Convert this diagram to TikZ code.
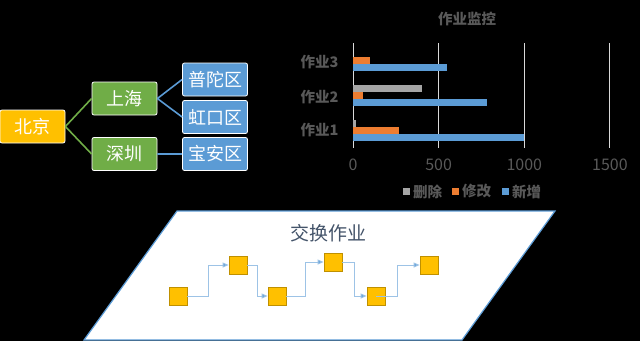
\documentclass[tikz,border=0pt]{standalone}
\usepackage{fontspec}
\setmainfont{Noto Sans CJK SC}
\usetikzlibrary{positioning,arrows.meta}
\definecolor{cyellow}{HTML}{FFC000}
\definecolor{cgreen}{HTML}{70AD47}
\definecolor{cblue}{HTML}{5B9BD5}
\definecolor{corange}{HTML}{ED7D31}
\definecolor{cgray}{HTML}{A5A5A5}
\definecolor{chtext}{HTML}{595959}
\definecolor{cslate}{HTML}{44546A}

\begin{document}
\begin{tikzpicture}[x=1pt,y=-1pt,
  city/.style={draw=white, line width=0.8pt, rounded corners=2pt, text=white,
    minimum width=65pt, minimum height=33pt, inner sep=0pt,
    font=\fontsize{18}{18}\selectfont},
  chlabel/.style={text=chtext, font=\fontsize{14.5}{15}\selectfont\bfseries},
  jobbox/.style={draw=cyellow!75!black, fill=cyellow, line width=0.8pt,
    minimum size=18pt, inner sep=0pt},
  jobline/.style={draw=cblue!60, line width=1pt,
    -{Triangle[length=6pt,width=5pt,fill=cblue]}},
]
\fill[black] (0,0) rectangle (640,341);
\useasboundingbox (0,0) rectangle (640,341);

% city tree
\node[city, fill=cyellow] (bj) at (32.5,126.5) {北京};
\node[city, fill=cgreen] (sh) at (124.5,98.5) {上海};
\node[city, fill=cgreen] (sz) at (124.5,154) {深圳};
\node[city, fill=cblue] (pt) at (215,79.5) {普陀区};
\node[city, fill=cblue] (hk) at (215,117) {虹口区};
\node[city, fill=cblue] (ba) at (215,154) {宝安区};
\draw[cgreen, line width=1.6pt] (bj.east) -- (sh.west) (bj.east) -- (sz.west);
\draw[cblue, line width=1.6pt] (sh.east) -- (pt.west) (sh.east) -- (hk.west)
  (sz.east) -- (ba.west);

% bar chart
\node[chlabel] (chtitle) at (467,19) {作业监控};
\foreach \v in {0,500,1000,1500} {
  \draw[white!85!black, line width=1pt] ({353+0.1713*\v},43) -- ({353+0.1713*\v},148);
  \node[text=chtext, font=\fontsize{16}{16}\selectfont] at ({353+0.1713*\v},165) {\v};
}
\foreach \y/\l in {62/作业3, 97/作业2, 130/作业1}
  \node[chlabel, anchor=east] at (342,\y) {\l};
\foreach \c/\y/\v in {corange/57/100, cblue/64/550,
    cgray/85/400, corange/92/60, cblue/99/780,
    cgray/120/15, corange/127/270, cblue/134/1000}
  \fill[\c] (353,\y) rectangle ({353+0.1713*\v},\y+7);
\foreach \c/\x/\l in {cgray/403/删除, corange/452/修改, cblue/502/新增} {
  \fill[\c] (\x,188) rectangle (\x+7,195);
  \node[chlabel, anchor=west, inner sep=0pt] at (\x+10,191.5) {\l};
}

% exchange jobs
\draw[cblue, fill=white, line width=1.2pt] (177,211) -- (555,211) -- (462,340)
  -- (84,340) -- cycle;
\node[text=cslate, font=\fontsize{19}{19}\selectfont] (xtitle)
  at (328,233) {交换作业};
\node[jobbox] (j1) at (178,296) {};
\node[jobbox] (j2) at (238,265) {};
\node[jobbox] (j3) at (277,296) {};
\node[jobbox] (j4) at (333,262) {};
\node[jobbox] (j5) at (376,296) {};
\node[jobbox] (j6) at (429,265) {};
\draw[jobline] (j1.east) -- ++(21,0) |- (j2.west);
\draw[jobline] (j2.east) -- ++(10,0) |- (j3.west);
\draw[jobline] (j3.east) -- ++(19,0) |- (j4.west);
\draw[jobline] (j4.east) -- ++(12,0) |- (j5.west);
\draw[jobline] (j5.center) -- ++(21,0) |- (j6.west);
\end{tikzpicture}
\end{document}
